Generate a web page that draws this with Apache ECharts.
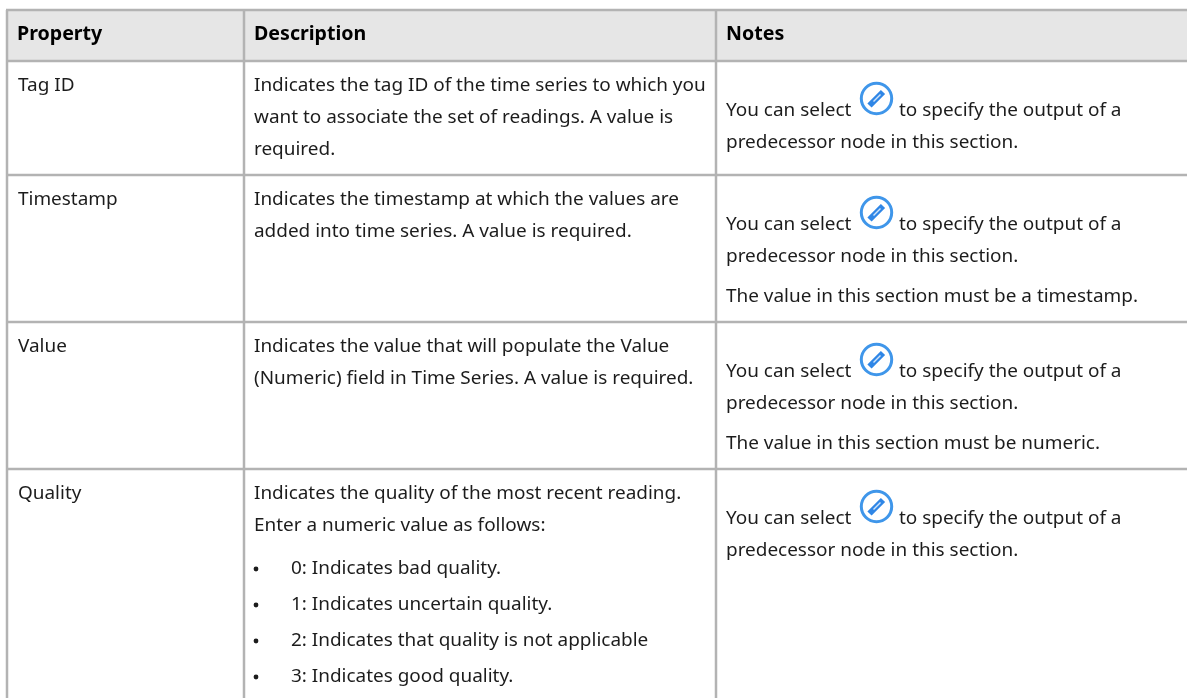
<!DOCTYPE html>
<html>
<head>
<meta charset="utf-8">
<style>html,body{margin:0;padding:0;background:#fff}#main{width:1187px;height:698px}</style>
<script src="https://cdn.jsdelivr.net/npm/echarts@6/dist/echarts.min.js"></script>
</head>
<body>
<div id="main"></div>
<script>
var headers = ['Property', 'Description', 'Notes'];
var properties = ['Tag ID', 'Timestamp', 'Value', 'Quality'];
var descriptions = [
	['Indicates the tag ID of the time series to which you', 'want to associate the set of readings. A value is', 'required.'],
	['Indicates the timestamp at which the values are', 'added into time series. A value is required.'],
	['Indicates the value that will populate the Value', '(Numeric) field in Time Series. A value is required.'],
	['Indicates the quality of the most recent reading.', 'Enter a numeric value as follows:']
];
var qualityItems = ['0: Indicates bad quality.', '1: Indicates uncertain quality.', '2: Indicates that quality is not applicable', '3: Indicates good quality.'];
var noteBefore = 'You can select';
var noteAfter = 'to specify the output of a';
var noteSecond = 'predecessor node in this section.';
var noteExtra = ['', 'The value in this section must be a timestamp.', 'The value in this section must be numeric.', ''];

var colX = [7, 244, 716, 1187];
var rowY = [10, 61, 175, 322, 469, 698];
var font = '"Noto Sans", sans-serif';
var textColor = '#1c1c1c';
var lineColor = '#b3b3b3';
var elements = [];

function addText(x, y, s, bold) {
	elements.push({
		type : 'text',
		x : x,
		y : y,
		style : {
			text : s,
			fill : bold ? '#000' : textColor,
			font : (bold ? 'bold 19.6px ' : '18.95px ') + font,
			textVerticalAlign : 'middle'
		}
	});
}

function addLine(x1, y1, x2, y2) {
	elements.push({
		type : 'line',
		shape : { x1 : x1, y1 : y1, x2 : x2, y2 : y2 },
		style : { stroke : lineColor, lineWidth : 2.5 }
	});
}

function addIcon(cx, cy) {
	elements.push({
		type : 'circle',
		shape : { cx : cx, cy : cy, r : 15.2 },
		style : { fill : '#fff', stroke : '#3f96ea', lineWidth : 3 }
	});
	elements.push({
		type : 'line',
		shape : { x1 : cx - 7, y1 : cy + 7, x2 : cx + 6.5, y2 : cy - 6.5 },
		style : { stroke : '#2f86e6', lineWidth : 6 }
	});
	elements.push({
		type : 'line',
		shape : { x1 : cx - 3, y1 : cy + 3, x2 : cx + 4, y2 : cy - 4 },
		style : { stroke : '#cfe4fa', lineWidth : 1.5 }
	});
}

// header band
elements.push({
	type : 'rect',
	shape : { x : colX[0], y : rowY[0], width : colX[3] - colX[0], height : rowY[1] - rowY[0] },
	style : { fill : '#e6e6e6' }
});
headers.forEach(function(h, i) {
	addText(colX[i] + 10, 34, h, true);
});

// body rows
properties.forEach(function(p, i) {
	var top = rowY[i + 1];
	addText(colX[0] + 11, top + 24.5, p);
	descriptions[i].forEach(function(s, j) {
		addText(colX[1] + 10, top + 24.5 + j * 32, s);
	});
	var y = top + 50;
	addText(colX[2] + 10, y, noteBefore);
	addIcon(876.5, y - 12.5);
	addText(899, y, noteAfter);
	addText(colX[2] + 10, y + 32, noteSecond);
	if (noteExtra[i]) {
		addText(colX[2] + 10, y + 72, noteExtra[i]);
	}
});

// bullet list in the quality row
qualityItems.forEach(function(s, i) {
	var y = 569 + i * 36;
	elements.push({
		type : 'circle',
		shape : { cx : 256, cy : y, r : 2.4 },
		style : { fill : textColor }
	});
	addText(291, y, s);
});

// grid lines
for (var i = 0; i < rowY.length - 1; i++) {
	addLine(colX[0] - 1, rowY[i], colX[3], rowY[i]);
}
for (var k = 0; k < colX.length - 1; k++) {
	addLine(colX[k], rowY[0], colX[k], rowY[5]);
}

var myChart = echarts.init(document.getElementById('main'));
myChart.setOption({
	animation : false,
	graphic : { elements : elements }
});
</script>
</body>
</html>
